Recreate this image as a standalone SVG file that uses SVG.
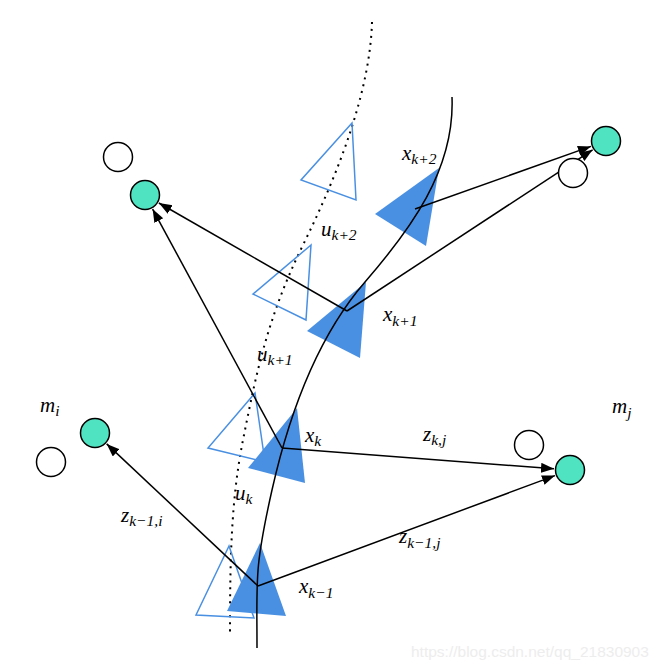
<svg xmlns="http://www.w3.org/2000/svg" width="663" height="669" viewBox="0 0 663 669">
<style>
.bg{fill:#ffffff}
.pose{fill:#4a90e2;stroke:none}
.ctrl{fill:none;stroke:#4a90e2;stroke-width:1.5;stroke-linejoin:miter}
.lm{fill:#50e3c2;stroke:#000;stroke-width:1.5}
.lmw{fill:#ffffff;stroke:#000;stroke-width:1.5}
.edge{fill:none;stroke:#000;stroke-width:1.5}
.traj{fill:none;stroke:#000;stroke-width:1.5}
.dots{fill:none;stroke:#000;stroke-width:2;stroke-dasharray:2 5}
.lbl{font-family:"Liberation Serif","DejaVu Serif",serif;font-style:italic;font-size:21px;fill:#000}
.sub{font-size:15.5px}
.wm{font-family:"Liberation Sans",Arial,sans-serif;font-size:15.5px;fill:#ededed}
</style>
<defs>
<marker id="ah" markerUnits="userSpaceOnUse" markerWidth="15" markerHeight="12" refX="13" refY="5" orient="auto">
<path d="M0,0 L13,5 L0,10 z" fill="#000"/>
</marker>
</defs>
<rect class="bg" x="0" y="0" width="663" height="669"/>

<path class="dots" d="M372,22 C370,90 340,170 303,245 S255,380 243,440 S230,560 230,635"/>

<g id="u_km1"><polygon class="ctrl" points="229,546 196,615 254,618"/></g>
<g id="u_k"><polygon class="ctrl" points="255,393 208,448 265,462"/>
<text class="lbl" x="235" y="500">u<tspan class="sub" dy="4">k</tspan></text></g>
<g id="u_kp1"><polygon class="ctrl" points="311,245 253,294 306,320"/>
<text class="lbl" x="257" y="361">u<tspan class="sub" dy="4">k+1</tspan></text></g>
<g id="u_kp2"><polygon class="ctrl" points="352,123 301,180 356,200"/>
<text class="lbl" x="321" y="236">u<tspan class="sub" dy="4">k+2</tspan></text></g>

<g id="x_km1"><polygon class="pose" points="260,543 227,611 286,616"/>
<text class="lbl" x="299" y="593">x<tspan class="sub" dy="5">k−1</tspan></text></g>
<g id="x_k"><polygon class="pose" points="297,408 248,468 305,483"/>
<text class="lbl" x="305" y="442">x<tspan class="sub" dy="4">k</tspan></text></g>
<g id="x_kp1"><polygon class="pose" points="366,282 307,331 360,358"/>
<text class="lbl" x="383" y="321">x<tspan class="sub" dy="5">k+1</tspan></text></g>
<g id="x_kp2"><polygon class="pose" points="439,168 375,214 426,246"/>
<text class="lbl" x="402" y="160">x<tspan class="sub" dy="4">k+2</tspan></text></g>

<path class="traj" d="M452,97 C455,170 410,230 365,282 S290,410 272,490 S257,580 257,648"/>

<g id="connectors">
<line class="edge" x1="258" y1="586" x2="106.7" y2="443.9" marker-end="url(#ah)"/>
<line class="edge" x1="258" y1="586" x2="555" y2="475.6" marker-end="url(#ah)"/>
<line class="edge" x1="282" y1="448" x2="152.6" y2="209.1" marker-end="url(#ah)"/>
<line class="edge" x1="282" y1="448" x2="554" y2="468.8" marker-end="url(#ah)"/>
<line class="edge" x1="347" y1="311" x2="158.9" y2="203" marker-end="url(#ah)"/>
<line class="edge" x1="347" y1="311" x2="592.6" y2="149.8" marker-end="url(#ah)"/>
<line class="edge" x1="415" y1="209" x2="590.9" y2="146.4" marker-end="url(#ah)"/>
</g>

<g id="m_i"><circle class="lmw" cx="51" cy="462" r="14.5"/><circle class="lm" cx="95" cy="433" r="14.5"/>
<text class="lbl" x="40" y="412">m<tspan class="sub" dy="4">i</tspan></text></g>
<g id="m_j"><circle class="lmw" cx="529" cy="445" r="14.5"/><circle class="lm" cx="570" cy="470" r="14.5"/>
<text class="lbl" x="612" y="413">m<tspan class="sub" dy="5">j</tspan></text></g>
<g id="m_a"><circle class="lmw" cx="118" cy="157" r="14.5"/><circle class="lm" cx="145" cy="195" r="14.5"/></g>
<g id="m_b"><circle class="lmw" cx="573" cy="173" r="14.5"/><circle class="lm" cx="606" cy="141" r="14.5"/></g>

<g id="edge_labels">
<text class="lbl" x="121" y="522">z<tspan class="sub" dy="4">k−1,i</tspan></text>
<text class="lbl" x="423" y="441">z<tspan class="sub" dy="4">k,j</tspan></text>
<text class="lbl" x="399" y="543">z<tspan class="sub" dy="5">k−1,j</tspan></text>
</g>

<text class="wm" x="411" y="657">https://blog.csdn.net/qq_21830903</text>
</svg>
